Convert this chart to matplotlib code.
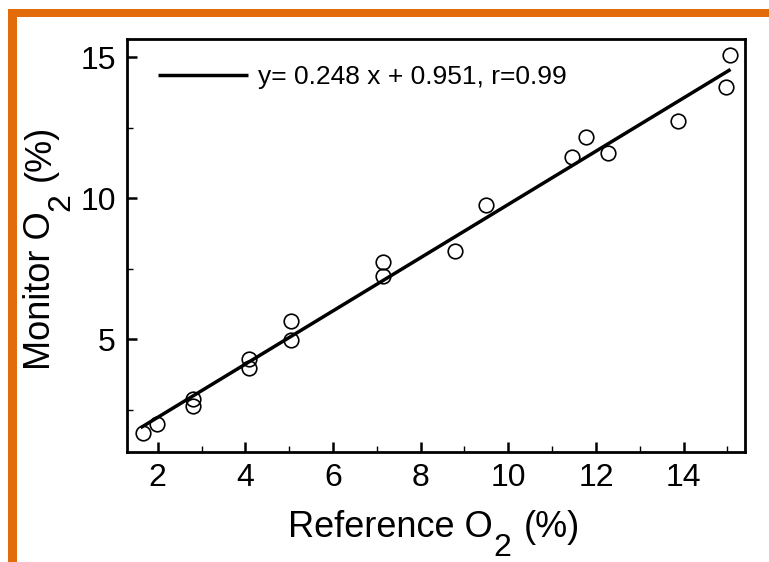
import matplotlib
matplotlib.use("Agg")
import matplotlib.pyplot as plt
from matplotlib.patches import Rectangle
from matplotlib.ticker import MultipleLocator
from matplotlib.transforms import IdentityTransform
from matplotlib.font_manager import FontProperties

plt.rcParams['font.family'] = ['Liberation Sans', 'DejaVu Sans']

# Data
reference_o2 = [1.66, 1.98, 2.80, 2.80, 4.08, 4.08, 5.04, 5.04, 7.14, 7.14,
                8.78, 9.49, 11.45, 11.77, 12.27, 13.87, 14.97, 15.06]
monitor_o2 = [1.67, 1.99, 2.87, 2.62, 4.29, 3.97, 5.64, 4.96, 7.73, 7.23,
              8.12, 9.75, 11.45, 12.16, 11.60, 12.73, 13.94, 15.07]
fit_x = [1.61, 15.07]
fit_y = [1.86, 14.57]
fit_label = "y= 0.248 x + 0.951, r=0.99"
x_ticks = [2, 4, 6, 8, 10, 12, 14]
y_ticks = [5, 10, 15]
xlabel_parts = ["Reference O", "2", "(%)"]
ylabel_parts = ["Monitor O", "2", "(%)"]

W, H = 769, 562
fig = plt.figure(figsize=(W / 100, H / 100), dpi=100)
fig.patch.set_facecolor('white')

orange = '#E36C0A'
fig.add_artist(Rectangle((8 / W, 0), 9 / W, 1 - 9 / H, transform=fig.transFigure,
                         facecolor=orange, edgecolor='none'))
fig.add_artist(Rectangle((8 / W, 1 - 17 / H), 1, 8 / H, transform=fig.transFigure,
                         facecolor=orange, edgecolor='none'))

ax = fig.add_axes([127 / W, 1 - 452 / H, (745 - 127) / W, (452 - 39) / H])
ax.plot(fit_x, fit_y, color='black', lw=2.5, label=fit_label, solid_capstyle='butt')
ax.plot(reference_o2, monitor_o2, linestyle='none', marker='o', markersize=10.5,
        markerfacecolor='none', markeredgecolor='black', markeredgewidth=1.2)

ax.set_xlim(1.3, 15.4)
ax.set_ylim(1.0, 15.65)
ax.set_xticks(x_ticks)
ax.set_yticks(y_ticks)
ax.xaxis.set_minor_locator(MultipleLocator(1))
ax.yaxis.set_minor_locator(MultipleLocator(2.5))
ax.tick_params(which='both', direction='in', top=False, right=False)
ax.tick_params(which='major', length=7, width=1.8, labelsize=23)
ax.tick_params(axis='x', which='major', pad=8)
ax.tick_params(axis='y', which='major', pad=8)
ax.tick_params(which='minor', length=4, width=1.0)
for s in ax.spines.values():
    s.set_linewidth(2.0)

leg = ax.legend(loc='center left', frameon=False, fontsize=19, handlelength=3.4,
                handletextpad=0.38, borderpad=0, borderaxespad=0,
                bbox_to_anchor=(158 / W, 1 - 77 / H), bbox_transform=fig.transFigure)

# Axis labels with a full-size, lowered subscript (as in the reference)
fig.canvas.draw()
rend = fig.canvas.get_renderer()
fp_main = FontProperties(family='Liberation Sans', size=26)
fp_sub = FontProperties(family='Liberation Sans', size=23)


def width(s, fp):
    return rend.get_text_width_height_descent(s, fp, ismath=False)[0]


idt = IdentityTransform()
gap_sub = 1
gap_after = 12
sub_drop = 19

# x label
w1 = width(xlabel_parts[0], fp_main)
w2 = width(xlabel_parts[1], fp_sub)
w3 = width(xlabel_parts[2], fp_main)
total = w1 + gap_sub + w2 + gap_after + w3
x0 = 434 - total / 2
yb = H - 537
fig.text(x0, yb, xlabel_parts[0], fontproperties=fp_main, transform=idt,
         ha='left', va='baseline')
fig.text(x0 + w1 + gap_sub, yb - sub_drop, xlabel_parts[1], fontproperties=fp_sub,
         transform=idt, ha='left', va='baseline')
fig.text(x0 + w1 + gap_sub + w2 + gap_after, yb, xlabel_parts[2], fontproperties=fp_main,
         transform=idt, ha='left', va='baseline')

# y label (rotated 90 degrees)
w1 = width(ylabel_parts[0], fp_main)
w2 = width(ylabel_parts[1], fp_sub)
w3 = width(ylabel_parts[2], fp_main)
total = w1 + gap_sub + w2 + gap_after + w3
yc = H - 247.5
y0 = yc - total / 2
xb = 50
kw = dict(transform=idt, ha='left', va='baseline', rotation=90, rotation_mode='anchor')
fig.text(xb, y0, ylabel_parts[0], fontproperties=fp_main, **kw)
fig.text(xb + sub_drop, y0 + w1 + gap_sub, ylabel_parts[1], fontproperties=fp_sub, **kw)
fig.text(xb, y0 + w1 + gap_sub + w2 + gap_after, ylabel_parts[2], fontproperties=fp_main, **kw)

fig.savefig('out.png', dpi=100)
